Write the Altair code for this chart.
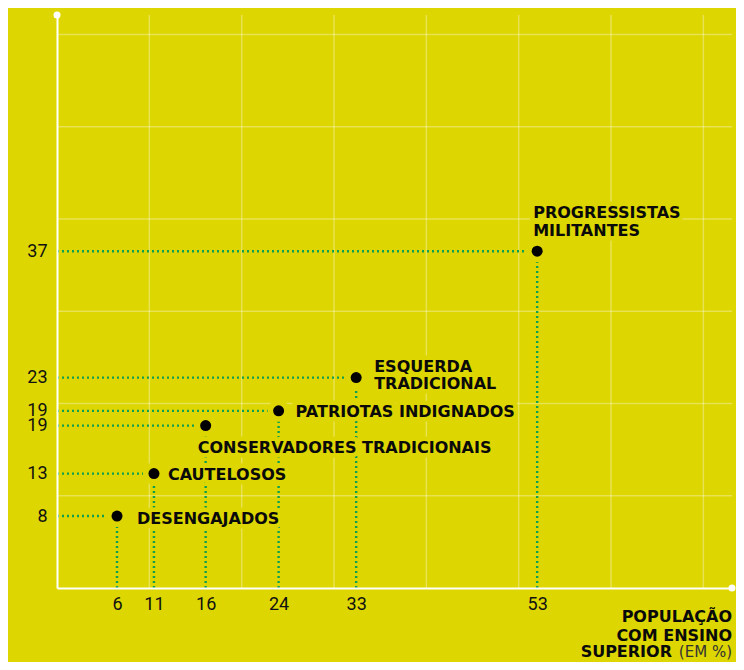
import altair as alt
import pandas as pd

# ---- data ----
groups = ["DESENGAJADOS", "CAUTELOSOS", "CONSERVADORES TRADICIONAIS",
          "PATRIOTAS INDIGNADOS", "ESQUERDA\nTRADICIONAL", "PROGRESSISTAS\nMILITANTES"]
ensino_superior = [6.5, 10.5, 16.1, 24.0, 32.4, 52.0]
valor = [7.8, 12.4, 17.6, 19.2, 22.8, 36.5]
x_tick_labels = ["6", "11", "16", "24", "33", "53"]
y_tick_labels = ["8", "13", "19", "19", "23", "37"]
grid_x = [10, 20, 30, 40, 50, 60, 70]
grid_y = [10, 20, 30, 40, 50, 60]
x_max = 73.1
y_max = 62.1

BG = "#DDD600"
GREEN = "#0E9F4F"
LABEL_FONT = "DejaVu Sans"
TICK_FONT = "Roboto"

df = pd.DataFrame({"grupo": groups, "x": ensino_superior, "y": valor})


def label_expr(vals, labels):
    expr = "''"
    for v, l in reversed(list(zip(vals, labels))):
        expr = f"datum.value == {v} ? '{l}' : ({expr})"
    return expr


xs = alt.Scale(domain=[0, x_max], nice=False, zero=True)
ys = alt.Scale(domain=[0, y_max], nice=False, zero=True)

x_axis = alt.Axis(values=ensino_superior, labelExpr=label_expr(ensino_superior, x_tick_labels),
                  title=None, grid=False, ticks=False, domainColor="white", domainWidth=2,
                  labelFont=TICK_FONT, labelFontSize=18, labelColor="#111111",
                  labelPadding=7, labelOverlap=False, labelFlush=False, zindex=1)
y_axis = alt.Axis(values=valor, labelExpr=label_expr(valor, y_tick_labels),
                  title=None, grid=False, ticks=False, domainColor="white", domainWidth=2,
                  labelFont=TICK_FONT, labelFontSize=18, labelColor="#111111",
                  labelPadding=10, labelOverlap=False, labelFlush=False, zindex=1)

base = alt.Chart(df)

# grid
gx = alt.Chart(pd.DataFrame({"g": grid_x})).mark_rule(color="white", opacity=0.32, strokeWidth=1.5).encode(
    x=alt.X("g:Q", scale=xs, axis=x_axis))
gy = alt.Chart(pd.DataFrame({"g": grid_y})).mark_rule(color="white", opacity=0.32, strokeWidth=1.5).encode(
    y=alt.Y("g:Q", scale=ys, axis=y_axis))

# dotted guides
hline = base.transform_calculate(zero="0").mark_rule(
    color=GREEN, strokeWidth=2.4, strokeDash=[2, 3]).encode(
    x=alt.X("zero:Q", scale=xs), x2="x:Q", y=alt.Y("y:Q", scale=ys))
vline = base.transform_calculate(zero="0").mark_rule(
    color=GREEN, strokeWidth=2.4, strokeDash=[2, 3]).encode(
    x=alt.X("x:Q", scale=xs), y=alt.Y("zero:Q", scale=ys), y2="y:Q")

halo_pt = base.mark_point(filled=True, shape="circle", size=484, color=BG, opacity=1).encode(
    x=alt.X("x:Q", scale=xs), y=alt.Y("y:Q", scale=ys))
pts = base.mark_point(filled=True, shape="circle", size=121, color="black", opacity=1).encode(
    x=alt.X("x:Q", scale=xs), y=alt.Y("y:Q", scale=ys))

# label layout offsets (pixels; first line for multi-line labels)
offsets = {
    "DESENGAJADOS": (20, 2.5),
    "CAUTELOSOS": (14, 1),
    "CONSERVADORES TRADICIONAIS": (-8, 22.5),
    "PATRIOTAS INDIGNADOS": (17, 1),
    "ESQUERDA\nTRADICIONAL": (18, -11),
    "PROGRESSISTAS\nMILITANTES": (-4, -38),
}

label_layers = []
for halo in (True, False):
    for g, (dx, dy) in offsets.items():
        props = dict(align="left", baseline="middle", dx=dx, dy=dy, font=LABEL_FONT,
                     fontSize=16, fontWeight="bold", lineBreak="\n", lineHeight=17.5)
        if halo:
            props.update(color=BG, stroke=BG, strokeWidth=9, strokeJoin="round")
        else:
            props.update(color="#0a0a0a")
        label_layers.append(
            base.transform_filter(alt.datum.grupo == g).mark_text(**props).encode(
                x=alt.X("x:Q", scale=xs), y=alt.Y("y:Q", scale=ys), text="grupo:N"))

# end dots of the axes
ends = alt.Chart(pd.DataFrame({"ex": [0, x_max], "ey": [y_max, 0]})).mark_point(
    filled=True, shape="circle", size=49, color="white", opacity=1).encode(
    x=alt.X("ex:Q", scale=xs), y=alt.Y("ey:Q", scale=ys))

# x-axis title (bottom right)
t1 = alt.Chart(pd.DataFrame({"t": ["POPULAÇÃO\nCOM ENSINO"]})).mark_text(
    align="right", baseline="middle", dy=29, font=LABEL_FONT, fontSize=16, fontWeight="bold",
    lineBreak="\n", lineHeight=18.5, color="#0a0a0a").encode(
    x=alt.datum(x_max), y=alt.datum(0), text="t:N")
t2 = alt.Chart(pd.DataFrame({"t": ["SUPERIOR"]})).mark_text(
    align="right", baseline="middle", dx=-60, dy=64, font=LABEL_FONT, fontSize=16,
    fontWeight="bold", color="#0a0a0a").encode(
    x=alt.datum(x_max), y=alt.datum(0), text="t:N")
t3 = alt.Chart(pd.DataFrame({"t": ["(EM %)"]})).mark_text(
    align="right", baseline="middle", dy=64, font=LABEL_FONT, fontSize=15,
    fontWeight="normal", color="#333333").encode(
    x=alt.datum(x_max), y=alt.datum(0), text="t:N")

chart = alt.layer(gx, gy, hline, vline, halo_pt, pts, *label_layers, ends, t1, t2, t3).properties(
    width=675, height=573,
    autosize=alt.AutoSizeParams(type="none"),
    padding={"left": 49, "top": 7, "right": 4, "bottom": 74},
    background=BG,
).configure_view(stroke=None)

chart.save("out.html", embed_options={"renderer": "svg", "actions": False})
